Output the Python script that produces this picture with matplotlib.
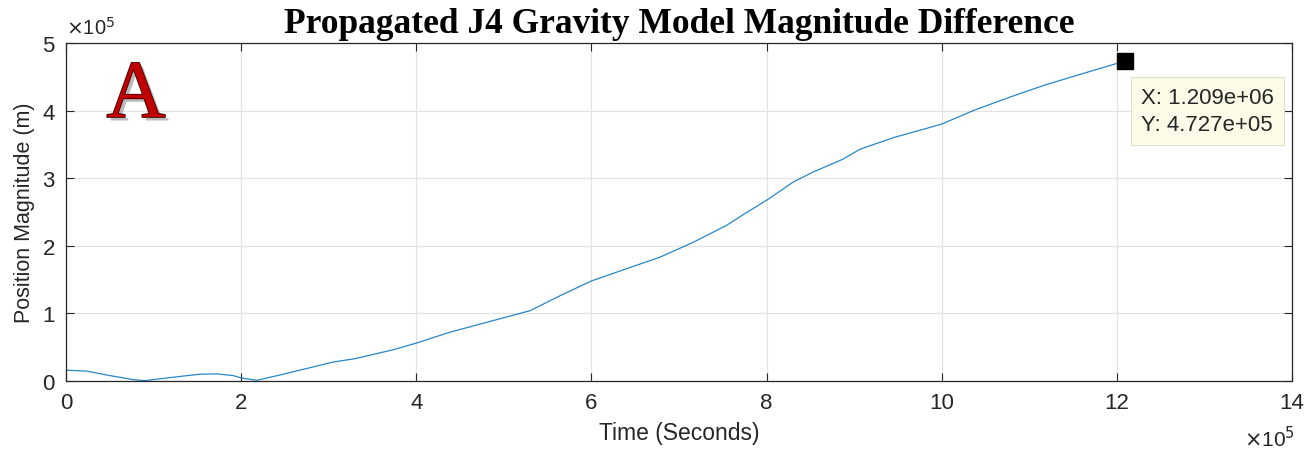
import matplotlib
matplotlib.use("Agg")
import matplotlib.pyplot as plt
import matplotlib.patheffects as pe
from matplotlib.ticker import FuncFormatter

# Data (time in seconds, position magnitude difference in meters)
time_s = [0.0, 0.24e5, 0.5e5, 0.77e5, 0.9e5, 1.15e5, 1.53e5, 1.72e5, 1.91e5, 2.0e5,
          2.18e5, 2.48e5, 3.05e5, 3.3e5, 3.73e5, 4.0e5, 4.38e5, 5.3e5, 5.64e5, 6.0e5,
          6.4e5, 6.78e5, 7.16e5, 7.54e5, 7.77e5, 8.02e5, 8.3e5, 8.53e5, 8.87e5, 9.07e5,
          9.45e5, 10.0e5, 10.36e5, 10.78e5, 11.16e5, 11.54e5, 11.98e5, 12.09e5]
pos_mag = [0.16e5, 0.145e5, 0.08e5, 0.02e5, 0.005e5, 0.045e5, 0.10e5, 0.105e5, 0.08e5, 0.045e5,
           0.01e5, 0.10e5, 0.28e5, 0.33e5, 0.46e5, 0.56e5, 0.72e5, 1.04e5, 1.26e5, 1.48e5,
           1.66e5, 1.83e5, 2.05e5, 2.30e5, 2.49e5, 2.69e5, 2.94e5, 3.09e5, 3.28e5, 3.43e5,
           3.60e5, 3.80e5, 4.0e5, 4.20e5, 4.37e5, 4.52e5, 4.69e5, 4.727e5]
x_ticks = [0, 2e5, 4e5, 6e5, 8e5, 10e5, 12e5, 14e5]
y_ticks = [0, 1e5, 2e5, 3e5, 4e5, 5e5]
tip_x = 1.209e6
tip_y = 4.727e5

plt.rcParams['font.family'] = ['Liberation Sans', 'DejaVu Sans']

fig = plt.figure(figsize=(13.06, 4.52), dpi=100)
ax = fig.add_axes([0.0505, 0.1549, 0.9388, 0.7478])

ax.plot(time_s, pos_mag, color=(0.0, 0.447, 0.741), lw=0.9, alpha=0.85)
ax.plot([tip_x], [tip_y], marker='s', color='black', ms=11, ls='none', zorder=5)

ax.set_xlim(0, 14e5)
ax.set_ylim(0, 5e5)
ax.set_xticks(x_ticks)
ax.set_yticks(y_ticks)
fmt = FuncFormatter(lambda v, p: f"{v/1e5:g}")
ax.xaxis.set_major_formatter(fmt)
ax.yaxis.set_major_formatter(fmt)
ax.grid(True, color='#e3e3e3', lw=0.9)
ax.set_axisbelow(True)
for s in ax.spines.values():
    s.set_color('#262626')
    s.set_linewidth(0.9)
ax.tick_params(direction='in', length=6, width=0.8, colors='#262626',
               labelsize=16, top=True, right=True, pad=8)
for lab in ax.get_xticklabels() + ax.get_yticklabels():
    lab.set_color('#262626')

ax.set_xlabel('Time (Seconds)', fontsize=16.5, color='#262626', labelpad=6)
ax.set_ylabel('Position Magnitude (m)', fontsize=15.5, color='#262626', labelpad=5)
ax.set_title('Propagated J4 Gravity Model Magnitude Difference',
             fontfamily='Liberation Serif', fontweight='bold', fontsize=25.5, pad=8)

# exponent labels
ax.text(0.0, 1.015, r'$\times$10$^5$', transform=ax.transAxes, fontsize=14.5,
        color='#262626', ha='left', va='bottom')
ax.text(1.002, -0.13, r'$\times$10$^5$', transform=ax.transAxes, fontsize=15,
        color='#262626', ha='right', va='top')

# panel letter
ax.text(0.033, 0.781, 'A', transform=ax.transAxes, fontfamily='Liberation Serif',
        fontsize=59, color='#c00000', ha='left', va='baseline',
        path_effects=[pe.withSimplePatchShadow(offset=(2.5, -2.5), shadow_rgbFace='#777777', alpha=0.5),
                      pe.Stroke(linewidth=1.2, foreground='#3a0000'), pe.Normal()])

# data tip
ax.text(0.877, 0.87, 'X: 1.209e+06\nY: 4.727e+05', transform=ax.transAxes,
        fontsize=16, color='#262626', ha='left', va='top', linespacing=1.4,
        bbox=dict(boxstyle='square,pad=0.45', facecolor='#fbfbe8', edgecolor='#e0e0d0', lw=0.8))

fig.savefig('out.png', dpi=100)
